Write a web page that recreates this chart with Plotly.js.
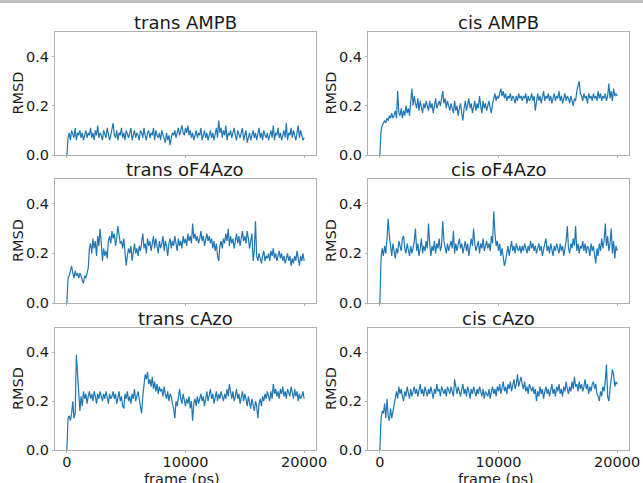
<!DOCTYPE html>
<html>
<head>
<meta charset="utf-8">
<script src="https://cdn.plot.ly/plotly-3.0.1.min.js"></script>
<style>
  html, body { margin: 0; padding: 0; background: #fff; }
  #chart { width: 643px; height: 483px; }
</style>
</head>
<body>
<div id="chart"></div>
<script>
// ---- data (RMSD per frame, sampled every 100 ps from 0 to 20000 ps) ----
const STEP_PS = 100;
const panelTitles = ["trans AMPB", "cis AMPB", "trans oF4Azo", "cis oF4Azo", "trans cAzo", "cis cAzo"];
const xTickVals = [0, 10000, 20000];
const yTickVals = [0, 0.2, 0.4];
const xLabel = "frame (ps)";
const yLabel = "RMSD";

const transAMPB = [
  0, .07, .09, .06, .10, .08, .07, .11, .06, .09,
  .08, .10, .07, .09, .06, .08, .10, .07, .09, .08,
  .11, .07, .09, .06, .10, .08, .12, .07, .09, .08,
  .06, .10, .08, .07, .11, .09, .06, .08, .10, .13,
  .08, .07, .10, .06, .09, .08, .11, .07, .09, .06,
  .10, .08, .07, .09, .11, .06, .08, .10, .07, .09,
  .08, .06, .10, .09, .07, .11, .08, .06, .09, .10,
  .07, .09, .08, .11, .06, .10, .08, .07, .09, .06,
  .10, .08, .07, .05, .09, .06, .08, .04, .07, .09,
  .08, .10, .07, .09, .11, .08, .10, .12, .09, .08,
  .11, .09, .12, .08, .10, .07, .09, .06, .08, .10,
  .07, .09, .08, .11, .06, .08, .10, .07, .09, .06,
  .08, .10, .07, .09, .06, .08, .11, .07, .14, .09,
  .11, .07, .10, .08, .12, .06, .09, .08, .10, .07,
  .09, .11, .08, .06, .10, .08, .07, .09, .11, .06,
  .08, .10, .05, .07, .09, .06, .08, .10, .07, .09,
  .06, .08, .11, .07, .09, .06, .10, .08, .07, .09,
  .06, .08, .10, .07, .12, .06, .09, .08, .11, .07,
  .09, .06, .08, .10, .07, .13, .06, .09, .08, .11,
  .07, .10, .08, .06, .09, .12, .07, .10, .08, .06,
  .07
];

const cisAMPB = [
  0, .10, .12, .13, .14, .13, .15, .14, .16, .15,
  .17, .15, .16, .18, .15, .26, .17, .16, .19, .15,
  .18, .16, .20, .17, .19, .16, .22, .27, .20, .24,
  .21, .19, .23, .18, .22, .20, .17, .21, .19, .22,
  .20, .18, .22, .19, .21, .17, .20, .23, .19, .21,
  .22, .20, .24, .26, .21, .23, .19, .22, .20, .18,
  .21, .19, .17, .22, .18, .20, .16, .19, .21, .17,
  .14, .19, .22, .18, .20, .23, .19, .21, .17, .20,
  .22, .18, .21, .19, .24, .20, .17, .22, .19, .21,
  .18, .20, .22, .19, .17, .21, .23, .25, .22, .24,
  .23, .25, .27, .24, .26, .23, .25, .22, .24, .23,
  .25, .22, .24, .23, .21, .24, .22, .25, .23, .24,
  .22, .24, .23, .25, .21, .24, .22, .23, .25, .22,
  .24, .18, .23, .25, .22, .24, .21, .23, .26, .22,
  .24, .23, .25, .22, .24, .21, .23, .25, .22, .24,
  .23, .26, .22, .24, .21, .23, .25, .22, .24, .23,
  .21, .24, .22, .20, .23, .22, .26, .28, .30, .25,
  .24, .22, .25, .23, .24, .21, .25, .23, .24, .22,
  .25, .23, .24, .22, .26, .23, .25, .22, .24, .23,
  .25, .22, .24, .29, .23, .26, .22, .27, .24, .25,
  .24
];

const transOF4Azo = [
  0, .10, .11, .13, .15, .12, .10, .13, .11, .12,
  .10, .12, .11, .09, .08, .11, .10, .12, .14, .22,
  .24, .20, .26, .22, .25, .19, .27, .23, .30, .24,
  .17, .22, .19, .21, .18, .25, .27, .24, .29, .26,
  .28, .23, .26, .31, .27, .24, .25, .22, .26, .20,
  .15, .19, .22, .20, .23, .17, .21, .24, .20, .22,
  .19, .23, .21, .25, .28, .22, .24, .20, .26, .23,
  .25, .21, .24, .27, .22, .26, .23, .20, .25, .22,
  .24, .27, .21, .25, .23, .19, .24, .26, .22, .25,
  .23, .27, .24, .21, .26, .23, .25, .22, .27, .24,
  .26, .23, .28, .25, .27, .24, .32, .26, .28, .25,
  .27, .24, .26, .29, .25, .27, .23, .26, .28, .25,
  .27, .24, .26, .22, .25, .21, .24, .19, .17, .23,
  .25, .22, .26, .24, .28, .25, .30, .23, .27, .24,
  .26, .22, .25, .28, .24, .27, .23, .26, .29, .25,
  .27, .24, .29, .26, .22, .25, .28, .17, .21, .33,
  .19, .17, .20, .18, .16, .19, .21, .17, .19, .18,
  .20, .17, .21, .19, .22, .18, .20, .17, .19, .21,
  .18, .20, .17, .19, .16, .18, .20, .17, .19, .15,
  .18, .16, .19, .17, .21, .18, .15, .19, .17, .20,
  .17
];

const cisOF4Azo = [
  0, .18, .22, .19, .23, .20, .26, .34, .27, .22,
  .19, .24, .21, .18, .22, .20, .25, .23, .21, .26,
  .27, .22, .20, .24, .21, .19, .23, .20, .22, .25,
  .30, .21, .24, .19, .22, .26, .20, .23, .21, .25,
  .22, .32, .24, .19, .23, .21, .25, .20, .24, .22,
  .26, .21, .23, .33, .25, .22, .20, .24, .21, .23,
  .25, .22, .29, .20, .24, .21, .23, .26, .22, .24,
  .20, .23, .25, .21, .24, .19, .22, .26, .23, .30,
  .24, .21, .23, .25, .20, .24, .22, .26, .21, .23,
  .25, .22, .24, .21, .27, .24, .37, .28, .23, .25,
  .21, .24, .19, .22, .18, .15, .17, .20, .23, .19,
  .22, .25, .21, .23, .20, .24, .22, .21, .23, .20,
  .23, .21, .24, .22, .20, .23, .21, .25, .22, .24,
  .21, .23, .20, .22, .24, .21, .23, .19, .22, .24,
  .26, .21, .23, .20, .24, .22, .19, .23, .21, .24,
  .22, .20, .24, .21, .23, .19, .22, .25, .31, .22,
  .20, .24, .22, .26, .23, .31, .21, .24, .20, .23,
  .22, .25, .21, .24, .20, .23, .22, .19, .24, .21,
  .23, .20, .16, .22, .19, .24, .21, .26, .22, .25,
  .32, .23, .27, .21, .24, .30, .20, .25, .18, .23,
  .21
];

const transCAzo = [
  0, .13, .14, .12, .15, .20, .13, .15, .39, .30,
  .25, .16, .22, .18, .24, .21, .23, .19, .22, .24,
  .21, .23, .20, .24, .22, .19, .23, .21, .24, .22,
  .20, .23, .21, .24, .22, .19, .23, .21, .22, .24,
  .21, .23, .19, .22, .24, .20, .22, .18, .17, .23,
  .21, .24, .20, .22, .19, .23, .21, .25, .20, .22,
  .24, .21, .18, .15, .22, .28, .31, .29, .32, .27,
  .29, .26, .30, .25, .28, .24, .27, .23, .26, .24,
  .25, .22, .26, .23, .21, .24, .20, .23, .22, .19,
  .17, .13, .20, .18, .22, .25, .21, .19, .23, .20,
  .18, .21, .19, .22, .17, .20, .12, .19, .21, .18,
  .22, .19, .21, .23, .20, .22, .18, .21, .24, .20,
  .22, .25, .21, .23, .19, .22, .24, .20, .23, .21,
  .24, .22, .20, .23, .21, .25, .22, .27, .23, .21,
  .24, .20, .22, .25, .21, .23, .19, .22, .24, .20,
  .23, .21, .18, .22, .20, .17, .21, .19, .16, .20,
  .18, .13, .19, .21, .18, .22, .20, .23, .21, .24,
  .22, .20, .24, .21, .27, .23, .25, .22, .24, .21,
  .25, .23, .26, .22, .24, .21, .25, .23, .22, .26,
  .23, .21, .25, .22, .24, .20, .23, .21, .22, .24,
  .21
];

const cisCAzo = [
  0, .13, .16, .15, .19, .13, .21, .14, .12, .17,
  .13, .16, .19, .22, .24, .21, .26, .23, .25, .22,
  .20, .24, .22, .26, .23, .21, .25, .22, .24, .26,
  .23, .25, .22, .24, .27, .23, .25, .22, .26, .24,
  .22, .25, .23, .26, .24, .21, .25, .23, .27, .24,
  .25, .22, .26, .24, .23, .25, .22, .26, .24, .23,
  .26, .24, .22, .29, .25, .23, .26, .24, .22, .25,
  .27, .23, .25, .22, .26, .24, .21, .25, .23, .26,
  .24, .22, .25, .23, .26, .24, .22, .25, .21, .24,
  .23, .22, .25, .21, .24, .26, .23, .25, .22, .26,
  .24, .27, .23, .25, .28, .24, .26, .23, .27, .25,
  .28, .24, .26, .29, .25, .27, .31, .26, .28, .30,
  .27, .25, .28, .24, .26, .23, .27, .25, .24, .26,
  .23, .25, .20, .24, .22, .26, .23, .25, .21, .24,
  .26, .23, .25, .22, .24, .27, .23, .25, .22, .26,
  .24, .27, .23, .25, .22, .26, .24, .28, .25, .23,
  .26, .24, .28, .25, .30, .26, .27, .24, .28, .25,
  .27, .24, .26, .29, .25, .27, .23, .26, .24, .27,
  .28, .25, .27, .23, .22, .20, .24, .22, .26, .24,
  .28, .35, .22, .20, .25, .29, .33, .31, .26, .28,
  .27
];

const seriesList = [transAMPB, cisAMPB, transOF4Azo, cisOF4Azo, transCAzo, cisCAzo];

// ---- layout geometry (pixels) ----
const W = 643, H = 483;
const colPx = [[55, 316], [368, 629]];
const rowPx = [[32, 155], [179, 303], [328, 450]];
const px2x = p => p / W;
const px2y = p => 1 - p / H;

const lineCol = '#1f77b4';
const spineCol = '#b0b0b0';
const textCol = '#1a1a1a';
const FONT = 'DejaVu Sans, sans-serif';

const traces = [];
const layout = {
  width: W, height: H,
  margin: {l: 0, r: 0, t: 0, b: 0},
  paper_bgcolor: '#ffffff',
  plot_bgcolor: '#ffffff',
  showlegend: false,
  font: {family: FONT, color: textCol, size: 14.5},
  annotations: [],
  shapes: [{
    type: 'rect', xref: 'paper', yref: 'paper',
    x0: 0, x1: 1, y0: px2y(3), y1: 1,
    fillcolor: '#c0c0c0', line: {width: 0}
  }]
};

seriesList.forEach((vals, k) => {
  const row = Math.floor(k / 2), col = k % 2;
  const idx = k + 1;
  const xa = idx === 1 ? 'x' : 'x' + idx;
  const ya = idx === 1 ? 'y' : 'y' + idx;
  const frames = vals.map((_, i) => i * STEP_PS);
  traces.push({
    x: frames, y: vals, type: 'scatter', mode: 'lines',
    xaxis: xa, yaxis: ya,
    line: {color: lineCol, width: 1.2},
    hoverinfo: 'skip'
  });
  const axCommon = {
    showline: true, mirror: true, linecolor: spineCol, linewidth: 1,
    ticks: 'outside', ticklen: 2, tickwidth: 1, tickcolor: spineCol,
    showgrid: false, zeroline: false,
    tickfont: {family: FONT, size: 14.5, color: textCol}
  };
  layout['xaxis' + (idx === 1 ? '' : idx)] = Object.assign({}, axCommon, {
    domain: [px2x(colPx[col][0]), px2x(colPx[col][1])],
    anchor: ya,
    range: [-1000, 21000],
    tickvals: xTickVals,
    ticktext: xTickVals.map(String),
    ticklabelstandoff: -3,
    showticklabels: row === 2
  });
  layout['yaxis' + (idx === 1 ? '' : idx)] = Object.assign({}, axCommon, {
    domain: [px2y(rowPx[row][1]), px2y(rowPx[row][0])],
    anchor: xa,
    range: [0, 0.5],
    tickvals: yTickVals,
    tickformat: '.1f'
  });
  // panel title
  layout.annotations.push({
    xref: 'paper', yref: 'paper',
    x: px2x((colPx[col][0] + colPx[col][1]) / 2),
    y: px2y(rowPx[row][0] - 10),
    xanchor: 'center', yanchor: 'middle',
    text: panelTitles[k], showarrow: false,
    font: {family: FONT, size: 18, color: textCol}
  });
  // y label
  layout.annotations.push({
    xref: 'paper', yref: 'paper',
    x: px2x(colPx[col][0] - 37),
    y: px2y((rowPx[row][0] + rowPx[row][1]) / 2),
    xanchor: 'center', yanchor: 'middle', textangle: -90,
    text: yLabel, showarrow: false,
    font: {family: FONT, size: 14.5, color: textCol}
  });
  // x label on bottom row
  if (row === 2) {
    layout.annotations.push({
      xref: 'paper', yref: 'paper',
      x: px2x((colPx[col][0] + colPx[col][1]) / 2 - 3),
      y: px2y(478.5),
      xanchor: 'center', yanchor: 'middle',
      text: xLabel, showarrow: false,
      font: {family: FONT, size: 14.5, color: textCol}
    });
  }
});

Plotly.newPlot('chart', traces, layout, {displayModeBar: false, staticPlot: true});
</script>
</body>
</html>
